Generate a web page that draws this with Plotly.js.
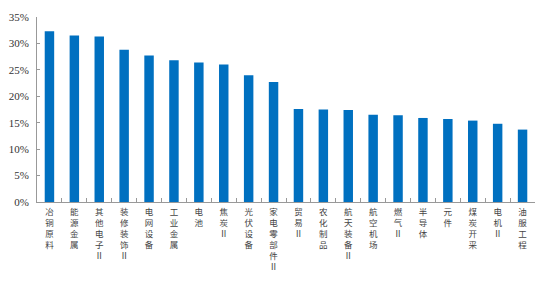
<!DOCTYPE html>
<html>
<head>
<meta charset="utf-8">
<script src="https://cdn.plot.ly/plotly-3.0.1.min.js"></script>
<style>html,body{margin:0;padding:0;background:#fff;}#chart{width:554px;height:284px;}</style>
</head>
<body>
<div id="chart"></div>
<script>
const categories = ["冶铜原料","能源金属","其他电子Ⅱ","装修装饰Ⅱ","电网设备","工业金属","电池","焦炭Ⅱ","光伏设备","家电零部件Ⅱ","贸易Ⅱ","农化制品","航天装备Ⅱ","航空机场","燃气Ⅱ","半导体","元件","煤炭开采","电机Ⅱ","油服工程"];
const values = [32.3, 31.5, 31.3, 28.8, 27.7, 26.8, 26.4, 26.0, 24.0, 22.7, 17.6, 17.5, 17.4, 16.5, 16.4, 15.9, 15.7, 15.4, 14.8, 13.7];
const yTickVals = [0,5,10,15,20,25,30,35];
const yTickText = ["0%","5%","10%","15%","20%","25%","30%","35%"];

const vertical = categories.map(c => Array.from(c).join("<br>"));

Plotly.newPlot("chart", [{
  type: "bar",
  x: categories,
  y: values,
  marker: {color: "#0070C0"},
  hoverinfo: "none"
}], {
  width: 554, height: 284,
  margin: {l: 37, r: 19, t: 17, b: 82},
  paper_bgcolor: "#fff", plot_bgcolor: "#fff",
  bargap: 0.62,
  showlegend: false,
  font: {family: "Liberation Serif", color: "#333"},
  xaxis: {
    type: "category",
    tickvals: categories,
    ticktext: vertical,
    tickangle: 0,
    ticks: "inside", ticklen: 4, tickcolor: "#999", tickson: "boundaries",
    showline: true, linecolor: "#999", linewidth: 1,
    showgrid: false, zeroline: false,
    tickfont: {family: "Noto Sans CJK SC", size: 8.5, color: "#444"},
    ticklabelstandoff: 2,
    fixedrange: true
  },
  yaxis: {
    range: [0, 35],
    tickvals: yTickVals,
    ticktext: yTickText,
    ticks: "inside", ticklen: 3, tickcolor: "#999",
    showline: true, linecolor: "#999", linewidth: 1,
    showgrid: false, zeroline: false,
    tickfont: {family: "Liberation Serif", size: 11, color: "#333"},
    ticklabelstandoff: 5,
    fixedrange: true
  }
}, {displayModeBar: false, staticPlot: true});
</script>
</body>
</html>
